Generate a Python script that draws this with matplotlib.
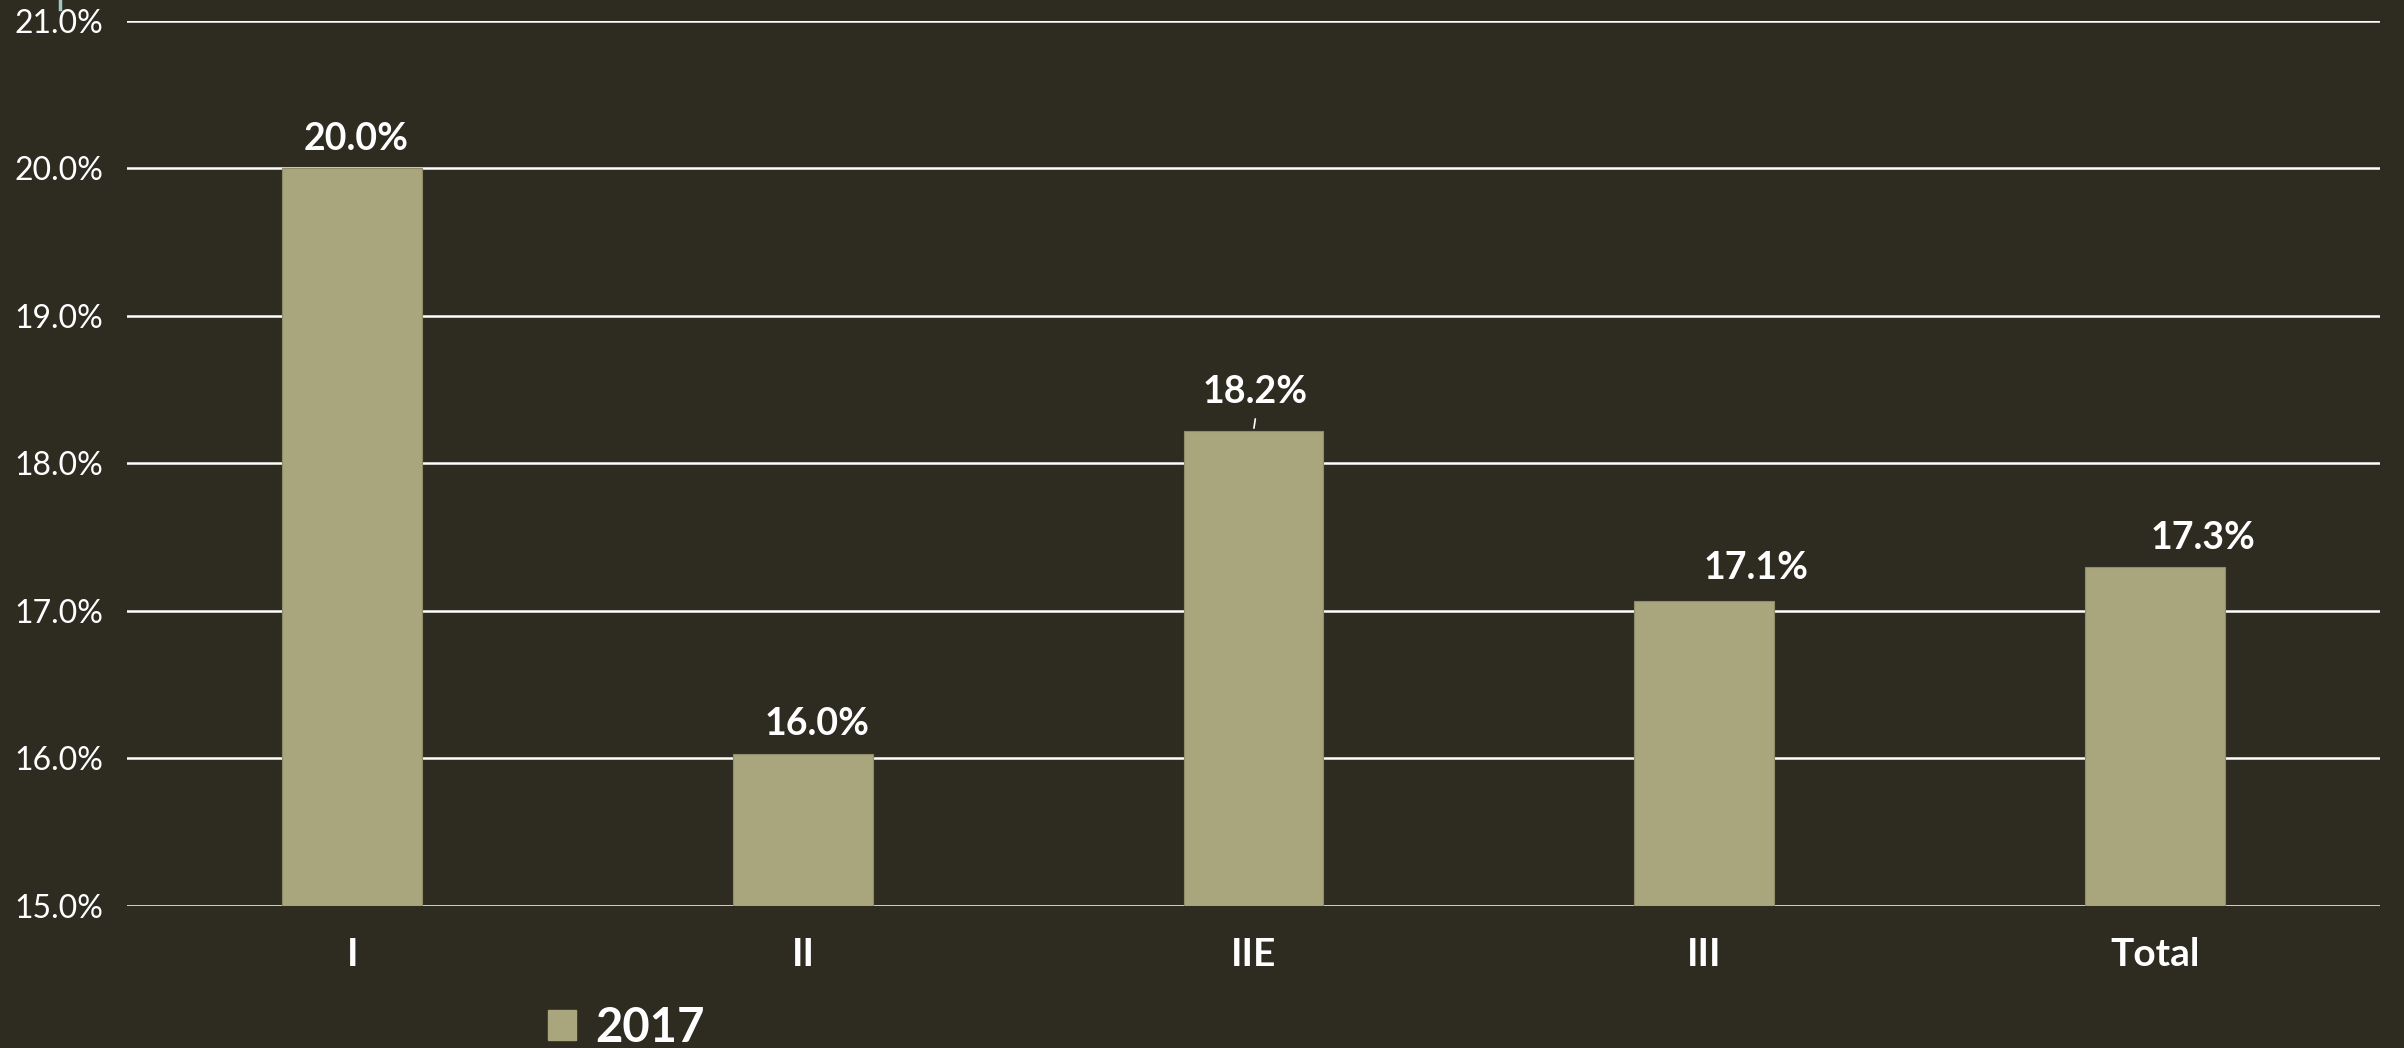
import matplotlib.pyplot as plt
from matplotlib.lines import Line2D
from matplotlib.patches import Patch

# dados
categorias = ['I', 'II', 'IIE', 'III', 'Total']
valores_2017 = [20.0, 16.03, 18.22, 17.07, 17.3]
rotulos = ['20.0%', '16.0%', '18.2%', '17.1%', '17.3%']
ticks_y = [15, 16, 17, 18, 19, 20, 21]

# deslocamento dos rótulos (pixels)
desloc = [(4, 18), (14, 19), (2, 28), (52, 22), (48, 18)]

fundo = '#2e2b21'
cor_barra = '#a9a67e'

plt.rcParams['font.family'] = ['Lato', 'DejaVu Sans']

fig = plt.figure(figsize=(24.04, 10.48), dpi=100, facecolor=fundo)
ax = fig.add_axes([127 / 2404, 1 - 906 / 1048, (2380 - 127) / 2404, (906 - 20.7) / 1048])
ax.set_facecolor(fundo)

x = range(len(categorias))
ax.bar(x, [v - 15 for v in valores_2017], bottom=15, width=0.31, color=cor_barra,
       edgecolor='#8f8c6a', linewidth=0.8, zorder=3)

ax.set_ylim(15, 21)
ax.set_xlim(-0.5, len(categorias) - 0.5)
ax.set_yticks(ticks_y)
ax.set_yticklabels([f'{t:.1f}%' for t in ticks_y], fontsize=23, color='white')
ax.set_xticks(list(x))
ax.set_xticklabels(categorias, fontsize=28, fontweight='bold', color='white')
ax.tick_params(axis='y', length=0, pad=17)
ax.tick_params(axis='x', length=0, pad=22)
ax.grid(axis='y', color='white', linewidth=1.8, zorder=1)
for s in ax.spines.values():
    s.set_visible(False)

for i, v in enumerate(valores_2017):
    dx, dy = desloc[i]
    ax.annotate(rotulos[i], (i, v), xytext=(dx, dy), textcoords='offset pixels',
                ha='center', va='baseline', fontsize=27, fontweight='bold',
                color='white', zorder=4)

# linha guia do rótulo 18.2%
ax.annotate('', (2, valores_2017[2]), xytext=(2.005, valores_2017[2] + 0.1),
            arrowprops=dict(arrowstyle='-', color='white', lw=1.2))

# legenda
fig.legend(handles=[Patch(color=cor_barra, label='2017')], loc='lower left',
           bbox_to_anchor=(524 / 2404, -0.024), frameon=False, borderpad=0,
           handlelength=0.6, handleheight=0.6, handletextpad=0.4,
           prop=dict(size=34, weight='bold'), labelcolor='white')

# pequena marca no topo
fig.add_artist(Line2D([60 / 2404, 60 / 2404], [1, 1 - 9 / 1048], color='#9fc6c6', lw=2.5))

fig.savefig('out.png', dpi=100, facecolor=fundo)
